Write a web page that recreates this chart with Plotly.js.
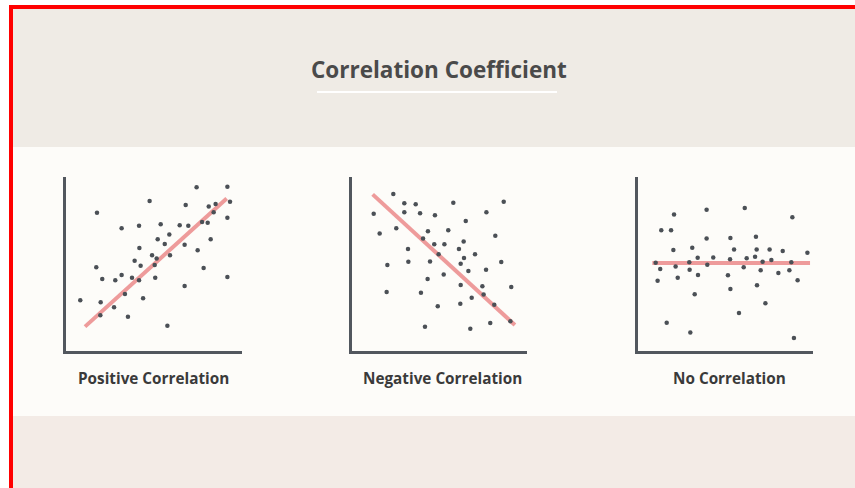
<!DOCTYPE html>
<html>
<head>
<meta charset="utf-8">
<script src="https://cdn.plot.ly/plotly-3.0.1.min.js"></script>
<style>
  html, body { margin: 0; padding: 0; background: #ffffff; }
  #chart { width: 855px; height: 488px; }
</style>
</head>
<body>
<div id="chart"></div>
<script>
// ---------------- DATA ----------------
const chartTitle = "Correlation Coefficient";
const panelTitles = ["Positive Correlation", "Negative Correlation", "No Correlation"];

const posX = [7.42, 9.17, 4.75, 9.32, 1.76, 6.80, 8.11, 8.50, 8.39, 9.17, 3.16, 4.15, 5.38, 6.46, 6.95, 7.73,
              8.05, 5.87, 5.21, 5.61, 6.74, 8.22, 4.17, 7.48, 4.89, 5.15, 5.91, 3.90, 4.24, 5.04, 7.82, 1.72,
              2.06, 2.80, 3.16, 3.75, 4.15, 5.07, 9.17, 6.74, 3.35, 4.38, 0.81, 1.97, 2.73, 1.95, 3.52, 5.76];
const posY = [9.41, 9.44, 8.62, 8.58, 7.95, 8.39, 8.31, 8.45, 7.97, 7.66, 7.05, 7.20, 7.28, 7.22, 7.20, 7.41,
              7.37, 6.70, 6.42, 6.15, 6.11, 6.42, 5.92, 5.79, 5.50, 5.31, 5.50, 5.19, 4.90, 4.94, 4.77, 4.81,
              4.14, 4.06, 4.37, 4.21, 4.06, 4.21, 4.25, 3.74, 3.28, 3.03, 2.91, 2.80, 2.51, 2.05, 1.97, 1.45];
const posLineX = [1.08, 9.13];
const posLineY = [1.40, 8.77];

const negX = [2.36, 1.24, 2.99, 3.64, 2.99, 3.89, 4.74, 5.79, 7.68, 8.67, 6.50, 1.58, 2.53, 4.34, 5.50, 4.06,
              4.70, 5.28, 6.38, 6.11, 8.19, 3.20, 4.95, 7.03, 6.40, 2.02, 3.22, 4.46, 6.21, 6.65, 7.66, 8.53,
              5.24, 4.32, 6.21, 7.45, 9.10, 1.98, 3.94, 7.52, 6.84, 6.19, 8.13, 4.90, 7.90, 4.17, 6.76, 9.05];
const negY = [9.02, 7.89, 8.49, 8.43, 7.97, 7.91, 7.80, 8.52, 7.97, 8.58, 7.47, 6.76, 7.05, 6.88, 6.94, 6.46,
              6.13, 6.13, 6.30, 5.86, 6.63, 5.86, 5.56, 5.56, 5.34, 4.94, 5.13, 5.15, 5.02, 4.60, 4.67, 5.11,
              4.39, 4.14, 3.79, 3.72, 3.68, 3.39, 3.35, 3.24, 3.06, 2.72, 2.66, 2.57, 1.61, 1.40, 1.28, 1.71];
const negLineX = [1.18, 9.31];
const negLineY = [9.00, 1.49];

const noX = [3.92, 6.10, 2.06, 8.82, 1.33, 1.89, 3.92, 5.28, 6.74, 2.02, 3.10, 5.49, 6.78, 7.52, 8.27, 9.68,
             3.41, 4.30, 5.26, 6.21, 6.69, 7.12, 7.62, 1.01, 2.93, 3.96, 8.76, 10.02, 1.27, 2.15, 2.95, 6.04,
             7.01, 8.02, 8.65, 1.12, 2.27, 3.43, 5.14, 9.12, 5.28, 6.80, 3.24, 7.28, 5.77, 1.64, 2.99, 8.91];
const noY = [8.12, 8.22, 7.85, 7.68, 6.94, 6.94, 6.46, 6.49, 6.57, 5.80, 5.94, 5.84, 5.84, 5.84, 5.75, 5.65,
             5.36, 5.38, 5.27, 5.33, 5.42, 5.13, 5.23, 5.07, 5.10, 4.96, 5.10, 4.93, 4.71, 4.85, 4.67, 4.81,
             4.64, 4.48, 4.64, 4.04, 4.21, 4.37, 4.35, 4.06, 3.56, 3.78, 3.26, 2.74, 2.18, 1.63, 1.07, 0.75];
const noLineX = [0.82, 9.83];
const noLineY = [5.06, 5.06];

// ---------------- STYLE ----------------
const W = 855, H = 488;
const dotColor = "#4b5056";
const lineColor = "rgba(232, 118, 118, 0.72)";
const axisColor = "#52575e";

function px(x) { return x / W; }
function py(y) { return (H - y) / H; }

const panels = [
  {x: posX, y: posY, lx: posLineX, ly: posLineY, left: 66, right: 242, cx: 153},
  {x: negX, y: negY, lx: negLineX, ly: negLineY, left: 352, right: 527, cx: 442},
  {x: noX,  y: noY,  lx: noLineX,  ly: noLineY,  left: 638, right: 813, cx: 729}
];
const plotTop = 177, plotBottom = 351;

const traces = [];
const layout = {
  width: W, height: H,
  margin: {l: 0, r: 0, t: 0, b: 0},
  paper_bgcolor: "#ffffff",
  plot_bgcolor: "rgba(0,0,0,0)",
  showlegend: false,
  shapes: [],
  annotations: []
};

// background bands
layout.shapes.push({type: "rect", xref: "paper", yref: "paper", x0: px(13), x1: 1, y0: py(147), y1: py(9), fillcolor: "#efebe5", line: {width: 0}, layer: "below"});
layout.shapes.push({type: "rect", xref: "paper", yref: "paper", x0: px(13), x1: 1, y0: py(416), y1: py(147), fillcolor: "#fdfcf9", line: {width: 0}, layer: "below"});
layout.shapes.push({type: "rect", xref: "paper", yref: "paper", x0: px(13), x1: 1, y0: 0, y1: py(416), fillcolor: "#f3ebe6", line: {width: 0}, layer: "below"});
// red frame
layout.shapes.push({type: "rect", xref: "paper", yref: "paper", x0: px(9), x1: px(13), y0: 0, y1: py(5), fillcolor: "#ff0000", line: {width: 0}});
layout.shapes.push({type: "rect", xref: "paper", yref: "paper", x0: px(9), x1: 1, y0: py(9), y1: py(5), fillcolor: "#ff0000", line: {width: 0}});
// title underline
layout.shapes.push({type: "line", xref: "paper", yref: "paper", x0: px(317), x1: px(557), y0: py(92), y1: py(92), line: {color: "#ffffff", width: 2}});

layout.annotations.push({
  text: "<b>" + chartTitle + "</b>", xref: "paper", yref: "paper", x: px(439), y: py(69),
  xanchor: "center", yanchor: "middle", showarrow: false,
  font: {family: "Open Sans, sans-serif", size: 22.5, color: "#4a4a4a"}
});

panels.forEach((p, i) => {
  const n = i === 0 ? "" : String(i + 1);
  traces.push({
    type: "scatter", mode: "lines", x: p.lx, y: p.ly, xaxis: "x" + n, yaxis: "y" + n,
    line: {color: lineColor, width: 4}, hoverinfo: "skip", cliponaxis: false
  });
  traces.push({
    type: "scatter", mode: "markers", x: p.x, y: p.y, xaxis: "x" + n, yaxis: "y" + n,
    marker: {color: dotColor, size: 4.5, line: {width: 0}}, cliponaxis: false
  });
  const axBase = {showgrid: false, zeroline: false, showticklabels: false, ticks: "", range: [0, 10],
                  showline: true, linecolor: axisColor, linewidth: 3, fixedrange: true};
  layout["xaxis" + n] = Object.assign({}, axBase, {domain: [px(p.left), px(p.right)], anchor: "y" + n});
  layout["yaxis" + n] = Object.assign({}, axBase, {domain: [py(plotBottom), py(plotTop)], anchor: "x" + n});
  layout.annotations.push({
    text: "<b>" + panelTitles[i] + "</b>", xref: "paper", yref: "paper",
    x: px(p.cx), y: py(378),
    xanchor: "center", yanchor: "middle", showarrow: false,
    font: {family: "Open Sans, sans-serif", size: 15.3, color: "#3a3a3a"}
  });
});

Plotly.newPlot("chart", traces, layout, {displayModeBar: false, staticPlot: true});
</script>
</body>
</html>
